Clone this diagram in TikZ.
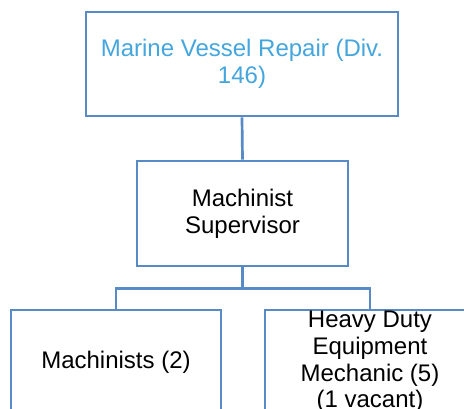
\documentclass[tikz,border=0pt]{standalone}
\usepackage{fontspec}
\setmainfont{Liberation Sans}
\definecolor{boxline}{RGB}{88,139,197}
\definecolor{headtext}{RGB}{68,166,221}
\begin{document}
\begin{tikzpicture}[x=1pt,y=-1pt,
  orgbox/.style={draw=boxline, line width=2.7pt, fill=white, rectangle,
    minimum width=210pt, minimum height=104pt, inner sep=0pt,
    align=center, font=\fontsize{24}{26.7}\selectfont},
  link/.style={draw=boxline, line width=2.7pt}]
\useasboundingbox (0,0) rectangle (464,408);
\clip (0,0) rectangle (464,408);
\fill[white] (0,0) rectangle (464,408);

\node[orgbox, minimum width=312pt, text=headtext] (div) at (242,64)
  {Marine Vessel Repair (Div.\\146)};
\node[orgbox, minimum width=211pt, minimum height=105pt] (sup) at (242.5,213.5)
  {Machinist\\Supervisor};
\node[orgbox] (mach) at (116,362) {Machinists (2)};
\node[orgbox] (hde) at (370,362)
  {Heavy Duty\\Equipment\\Mechanic (5)\\(1 vacant)};

\draw[link] (div.south) -- (sup.north);
\draw[link] (sup.south) -- ++(0,21) coordinate (bus) -| (mach.north);
\draw[link] (bus) -| (hde.north);
\end{tikzpicture}
\end{document}
